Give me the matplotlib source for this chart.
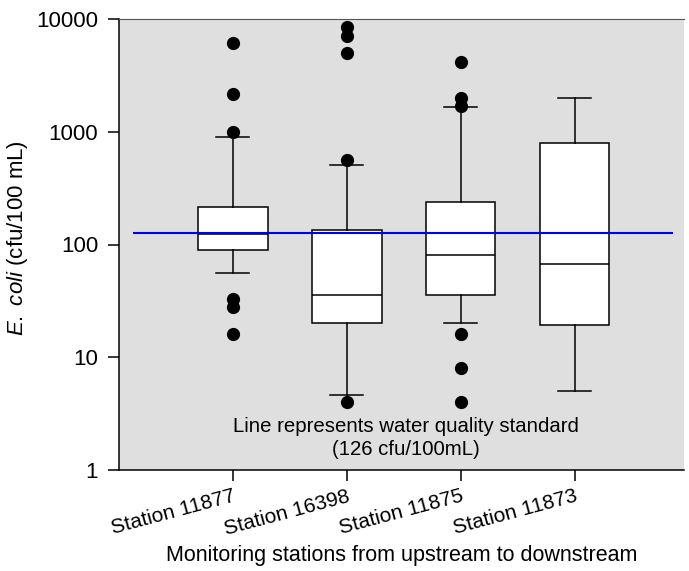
import matplotlib
matplotlib.use('Agg')
import matplotlib.pyplot as plt

plt.rcParams['font.family'] = ['Liberation Sans', 'DejaVu Sans']
plt.rcParams['mathtext.fontset'] = 'custom'
plt.rcParams['mathtext.it'] = 'Liberation Sans:italic'
plt.rcParams['mathtext.rm'] = 'Liberation Sans'

# datos
stations = ['Station 11877', 'Station 16398', 'Station 11875', 'Station 11873']
whislo = [56, 4.6, 20, 5]
q1 = [90, 20, 36, 19.5]
med = [125, 36, 80, 67]
q3 = [215, 135, 240, 790]
whishi = [900, 505, 1660, 1990]
fliers = [[6100, 2180, 1000, 33, 28, 16],
          [8450, 7050, 4950, 560, 4],
          [4150, 2000, 1700, 16, 8, 4],
          []]
standard = 126

stats = []
for i in range(len(stations)):
    stats.append({'whislo': whislo[i], 'q1': q1[i], 'med': med[i], 'q3': q3[i],
                  'whishi': whishi[i], 'fliers': fliers[i], 'label': stations[i]})

fig = plt.figure(figsize=(6.89, 5.71), dpi=100)
ax = fig.add_axes([119/689, 101/571, 565/689, 451/571])
ax.set_facecolor('#dfdfdf')

ax.bxp(stats, positions=[1, 2, 3, 4], widths=0.61, capwidths=0.29,
       patch_artist=True,
       boxprops=dict(facecolor='white', edgecolor='black', linewidth=1.1),
       medianprops=dict(color='black', linewidth=1.1),
       whiskerprops=dict(color='black', linewidth=1.1),
       capprops=dict(color='black', linewidth=1.1),
       flierprops=dict(marker='o', markerfacecolor='black', markeredgecolor='black', markersize=8.5))

ax.hlines(standard, 0.12, 4.86, color='#0000ee', linewidth=1.5, zorder=3)

ax.set_yscale('log')
ax.set_ylim(1, 10000)
ax.set_xlim(0, 4.96)
ax.set_yticks([1, 10, 100, 1000, 10000])
ax.set_yticklabels(['1', '10', '100', '1000', '10000'])
ax.minorticks_off()
ax.set_xticks([1, 2, 3, 4])
ax.set_xticklabels(stations, rotation=15, ha='right', rotation_mode='anchor')
ax.tick_params(axis='both', direction='out', length=8, width=1.1)
ax.tick_params(axis='y', labelsize=16, pad=7)
ax.tick_params(axis='x', labelsize=15, pad=4)

for s in ['left', 'bottom']:
    ax.spines[s].set_linewidth(1.1)
ax.spines['top'].set_color('#555555')
ax.spines['right'].set_visible(False)

ax.text(2.52, 2.45, 'Line represents water quality standard', ha='center', va='center', fontsize=14.7)
ax.text(2.52, 1.53, '(126 cfu/100mL)', ha='center', va='center', fontsize=14.7)

ax.set_ylabel(r'$\mathit{E.\ coli}$ (cfu/100 mL)', fontsize=16)
ax.yaxis.set_label_coords(-0.157, 0.514)
ax.set_xlabel('Monitoring stations from upstream to downstream', fontsize=15.5, labelpad=5)

fig.savefig('out.png', dpi=100)
